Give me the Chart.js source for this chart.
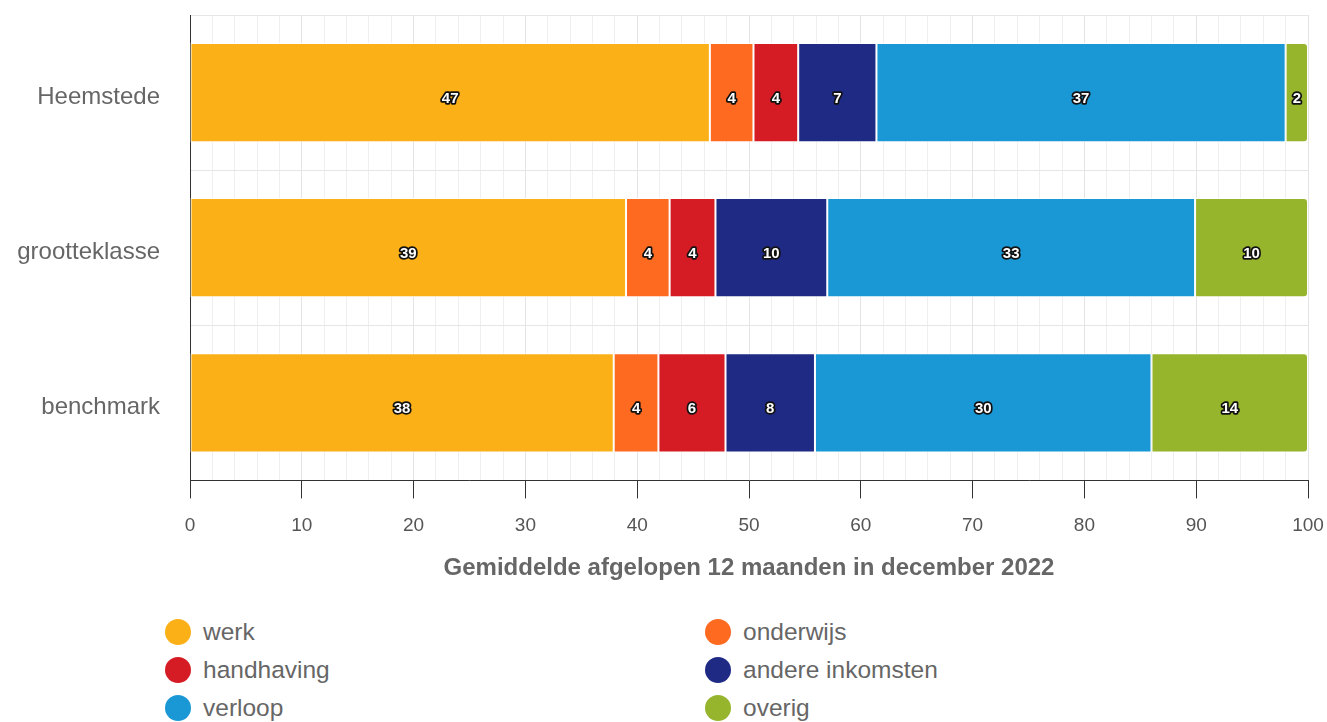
<!DOCTYPE html>
<html>
<head>
<meta charset="utf-8">
<script src="https://cdn.jsdelivr.net/npm/chart.js@4"></script>
<style>
    body { margin: 0; background: #fff; font-family: "Liberation Sans", Arial, sans-serif; }
    #wrap { position: relative; width: 1327px; height: 591px; }
    #legend { display: grid; grid-template-columns: 540px 540px; margin-left: 165px; margin-top: 28px; row-gap: 12px; }
    .item { display: flex; align-items: center; height: 26px; font-size: 24.5px; color: #666; }
    .dot { width: 26px; height: 26px; border-radius: 50%; margin-right: 12px; }
</style>
</head>
<body>
<div id="wrap"><canvas id="chart"></canvas></div>
<div id="legend"></div>
<script>
const categories = ['Heemstede', 'grootteklasse', 'benchmark'];
const seriesNames = ['werk', 'onderwijs', 'handhaving', 'andere inkomsten', 'verloop', 'overig'];
const seriesColors = ['#fcb017', '#fd6a20', '#d51c24', '#1f2a85', '#1a98d5', '#96b52d'];

const werk = [46.5, 39.0, 37.9];
const onderwijs = [3.9, 3.9, 4.0];
const handhaving = [4.0, 4.1, 6.0];
const andereInkomsten = [7.0, 10.0, 8.0];
const verloop = [36.6, 32.9, 30.1];
const overig = [2.0, 10.1, 14.0];
const seriesValues = [werk, onderwijs, handhaving, andereInkomsten, verloop, overig];

const axisTitle = 'Gemiddelde afgelopen 12 maanden in december 2022';
const FONT = '"Liberation Sans", Arial, sans-serif';

// labels inside the bars: white text with a dark outline
const barLabels = {
    id: 'barLabels',
    afterDatasetsDraw(chart) {
        const ctx = chart.ctx;
        ctx.save();
        ctx.font = 'bold 15px ' + FONT;
        ctx.textAlign = 'center';
        ctx.textBaseline = 'middle';
        ctx.lineJoin = 'round';
        chart.data.datasets.forEach((ds, i) => {
            chart.getDatasetMeta(i).data.forEach((bar, j) => {
                const v = Math.round(ds.data[j]);
                if (!v) return;
                const p = bar.getCenterPoint();
                ctx.lineWidth = 3.5;
                ctx.strokeStyle = '#111';
                ctx.strokeText(v, p.x, p.y + 6);
                ctx.fillStyle = '#fff';
                ctx.fillText(v, p.x, p.y + 6);
            });
        });
        ctx.restore();
    }
};

const datasets = seriesNames.map((name, i) => ({
    label: name,
    data: seriesValues[i],
    backgroundColor: seriesColors[i],
    borderColor: '#fff',
    borderWidth: 1,
    borderSkipped: false,
    borderRadius: i === seriesNames.length - 1 ? { topLeft: 0, bottomLeft: 0, topRight: 4, bottomRight: 4 } : 0,
    barPercentage: 0.64,
    categoryPercentage: 1
}));

new Chart(document.getElementById('chart'), {
    type: 'bar',
    data: { labels: categories, datasets },
    plugins: [barLabels],
    options: {
        indexAxis: 'y',
        responsive: true,
        maintainAspectRatio: false,
        animation: false,
        layout: { padding: { top: 15, right: 19, left: 0, bottom: 8 } },
        scales: {
            x: {
                stacked: true,
                min: 0,
                max: 100,
                border: { color: '#333', width: 1 },
                afterFit: s => { s.paddingLeft = 0; s.paddingRight = 0; },
                grid: {
                    color: c => (c.tick && c.tick.value % 10 === 0) ? '#e4e4e4' : '#efefef',
                    tickColor: c => (c.tick && c.tick.value % 10 === 0) ? '#333' : 'rgba(0,0,0,0)',
                    tickLength: 18
                },
                ticks: {
                    stepSize: 2,
                    autoSkip: false,
                    maxRotation: 0,
                    padding: 16,
                    color: '#555',
                    font: { family: FONT, size: 19 },
                    callback: v => v % 10 === 0 ? v : ''
                },
                title: {
                    display: true,
                    text: axisTitle,
                    color: '#666',
                    font: { family: FONT, size: 24, weight: 'bold' },
                    padding: { top: 1, bottom: 0 }
                }
            },
            y: {
                stacked: true,
                border: { color: '#333', width: 1 },
                grid: { color: '#e6e6e6', drawTicks: false },
                afterFit: s => { s.width = 190; s.paddingTop = 0; s.paddingBottom = 0; },
                ticks: {
                    padding: 30,
                    labelOffset: 5,
                    color: '#666',
                    font: { family: FONT, size: 24 }
                }
            }
        },
        plugins: {
            legend: { display: false },
            tooltip: { enabled: false }
        }
    }
});

const legend = document.getElementById('legend');
seriesNames.forEach((name, i) => {
    const item = document.createElement('div');
    item.className = 'item';
    item.innerHTML = '<span class="dot" style="background:' + seriesColors[i] + '"></span>' + name;
    legend.appendChild(item);
});
</script>
</body>
</html>
